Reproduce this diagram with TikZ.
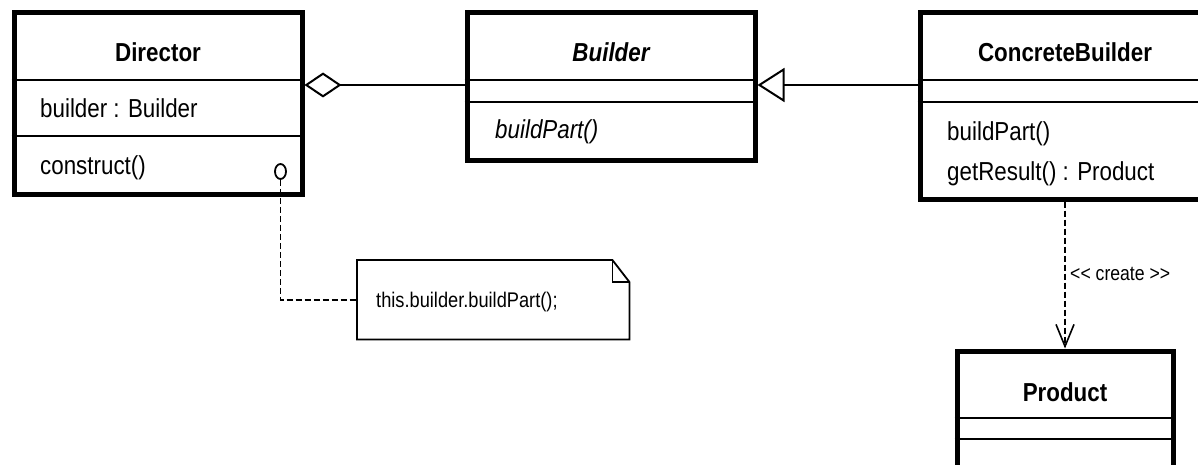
\documentclass[tikz,border=0pt]{standalone}
\usepackage{fontspec}
\setmainfont{Liberation Sans}[FakeStretch=0.86]
\usetikzlibrary{arrows.meta,calc,shapes.geometric}
\begin{document}
\begin{tikzpicture}[x=1pt,y=-1pt,
  classbox/.style={draw, line width=5pt, inner sep=0pt},
  divider/.style={line width=2pt},
  classname/.style={font=\fontsize{26}{30}\selectfont\bfseries, anchor=base, inner sep=0pt},
  member/.style={font=\fontsize{26}{30}\selectfont, anchor=base west, inner sep=0pt},
  conn/.style={line width=2.2pt},
  dashline/.style={line width=1.8pt, dash pattern=on 6pt off 3pt},
  smalltext/.style={font=\fontsize{20.5}{24}\selectfont, anchor=base west, inner sep=0pt}
]
\useasboundingbox (0,0) rectangle (1198,465);
\clip (0,0) rectangle (1198,465);

% Director
\node[classbox, minimum width=288pt, minimum height=181pt] (director) at (158,103.5) {};
\draw[divider] (director.west |- 0,80) -- (director.east |- 0,80);
\draw[divider] (director.west |- 0,136) -- (director.east |- 0,136);
\node[classname] (directorName) at (158,62) {Director};
\node[member] (directorAttr) at (40,118) {builder : Builder};
\node[member] (directorOp) at (40,175) {construct()};
\node[draw, ellipse, line width=1.8pt, minimum width=11pt, minimum height=15pt, inner sep=0pt] (cir) at (280.5,171.5) {};

% Builder (abstract)
\node[classbox, minimum width=288pt, minimum height=148pt] (builder) at (611,87) {};
\draw[divider] (builder.west |- 0,80) -- (builder.east |- 0,80);
\draw[divider] (builder.west |- 0,102) -- (builder.east |- 0,102);
\node[classname, font=\fontsize{26}{30}\selectfont\bfseries\itshape] (builderName) at (611,62) {Builder};
\node[member, font=\fontsize{26}{30}\selectfont\itshape] (builderOp) at (495,139) {buildPart()};

% ConcreteBuilder
\node[classbox, minimum width=292pt, minimum height=186pt] (concrete) at (1066,106) {};
\draw[divider] (concrete.west |- 0,80) -- (concrete.east |- 0,80);
\draw[divider] (concrete.west |- 0,102) -- (concrete.east |- 0,102);
\node[classname] (concreteName) at (1065,62) {ConcreteBuilder};
\node[member] (concreteOp1) at (947,141) {buildPart()};
\node[member] (concreteOp2) at (947,181) {getResult() : Product};

% Product
\node[classbox, minimum width=216pt, minimum height=129pt] (product) at (1065,415.5) {};
\draw[divider] (product.west |- 0,418) -- (product.east |- 0,418);
\draw[divider] (product.west |- 0,439) -- (product.east |- 0,439);
\node[classname] (productName) at (1065,401) {Product};

% Note
\node[minimum width=272pt, minimum height=79pt, inner sep=0pt, anchor=north west] (note) at (357,260) {};
\draw[line width=1.8pt, line join=miter]
  (note.north west) -- ($(note.north east)+(-17,0)$) -- ($(note.north east)+(0,22)$)
  -- (note.south east) -- (note.south west) -- cycle;
\draw[line width=1.5pt] ($(note.north east)+(-17,0)$) -- ($(note.north east)+(-17,22)$) -- ($(note.north east)+(0,22)$);
\node[smalltext, font=\fontsize{21.2}{24}\selectfont] (noteText) at (376,307) {this.builder.buildPart();};

% Connectors
\draw[conn, {Diamond[open, length=37pt, width=25pt, line width=2pt]}-]
  (director.east |- 0,85) -- (builder.west |- 0,85);
\draw[conn, -{Triangle[open, length=27pt, width=34pt, line width=2pt]}]
  (concrete.west |- 0,85) -- (builder.east |- 0,85);
\draw[dashline] (cir.south) |- (note.west);
\draw[dashline, -{Straight Barb[length=22pt, width=18pt, line width=1.6pt]}]
  (concrete.south -| product.north) -- (product.north);
\node[smalltext] (createLabel) at (1070,280) {<{}< create >{}>};
\end{tikzpicture}
\end{document}
